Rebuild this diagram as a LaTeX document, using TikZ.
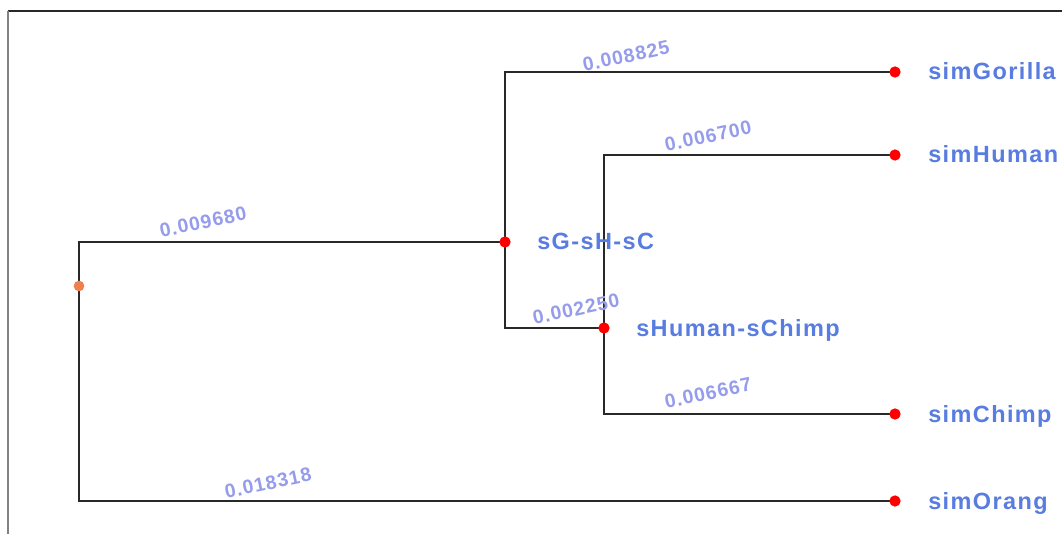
\documentclass[tikz,border=0pt]{standalone}
\usepackage{fontspec}
\setmainfont{Liberation Sans}
\newfontfamily\leaffont[LetterSpace=6]{Liberation Sans}
\newfontfamily\lenfont[LetterSpace=5]{Liberation Sans}
\definecolor{taxon}{RGB}{88,124,224}
\definecolor{brlen}{RGB}{150,156,236}
\definecolor{edge}{RGB}{40,40,40}
\definecolor{rootdot}{RGB}{238,128,80}
\definecolor{frameleft}{RGB}{130,130,130}
\begin{document}
\begin{tikzpicture}[x=0.75pt,y=-0.75pt,
  branch/.style={draw=edge,line width=1.6pt},
  tipdot/.style={circle,fill=red,inner sep=0pt,minimum size=8.5pt},
  rootmark/.style={circle,fill=rootdot,inner sep=0pt,minimum size=8pt},
  taxonlabel/.style={anchor=base west,text=taxon,inner sep=0pt,font=\leaffont\bfseries\fontsize{17.6pt}{20pt}\selectfont},
  lenlabel/.style={text=brlen,inner sep=0pt,rotate=12,font=\lenfont\bfseries\fontsize{14.6pt}{17pt}\selectfont}]
\useasboundingbox (0,0) rectangle (1062,534);
% frame
\draw[line width=1pt,draw=edge] (8,11) -- (1062,11);
\draw[line width=1pt,draw=frameleft] (8,11) -- (8,534);
% tree nodes
\coordinate (root) at (79,286);
\coordinate (gsc) at (505,242);
\coordinate (hc) at (604,328);
\coordinate (gor) at (895,72);
\coordinate (hum) at (895,155);
\coordinate (chi) at (895,414);
\coordinate (ora) at (895,501);
% branches
\draw[branch] (root) |- (gsc);
\draw[branch] (root) |- (ora);
\draw[branch] (gsc) |- (gor);
\draw[branch] (gsc) |- (hc);
\draw[branch] (hc) |- (hum);
\draw[branch] (hc) |- (chi);
% node markers
\node[rootmark] (rootdotnode) at (root) {};
\foreach \n in {gsc,hc,gor,hum,chi,ora} \node[tipdot] (dot-\n) at (\n) {};
% taxon and clade names
\node[taxonlabel] (lgor) at ([xshift=33*0.75pt,yshift=-8*0.75pt]gor) {simGorilla};
\node[taxonlabel] (lhum) at ([xshift=33*0.75pt,yshift=-8*0.75pt]hum) {simHuman};
\node[taxonlabel] (lchi) at ([xshift=33*0.75pt,yshift=-8*0.75pt]chi) {simChimp};
\node[taxonlabel] (lora) at ([xshift=33*0.75pt,yshift=-8*0.75pt]ora) {simOrang};
\node[taxonlabel] (lgsc) at ([xshift=32*0.75pt,yshift=-8*0.75pt]gsc) {sG-sH-sC};
\node[taxonlabel] (lhc) at ([xshift=32*0.75pt,yshift=-8*0.75pt]hc) {sHuman-sChimp};
% branch lengths
\node[lenlabel] (bgsc) at (203,222) {0.009680};
\node[lenlabel] (bora) at (268,483) {0.018318};
\node[lenlabel] (bgor) at (626,56) {0.008825};
\node[lenlabel] (bhc) at (576,309) {0.002250};
\node[lenlabel] (bhum) at (708,136) {0.006700};
\node[lenlabel] (bchi) at (708,393) {0.006667};
\end{tikzpicture}
\end{document}
